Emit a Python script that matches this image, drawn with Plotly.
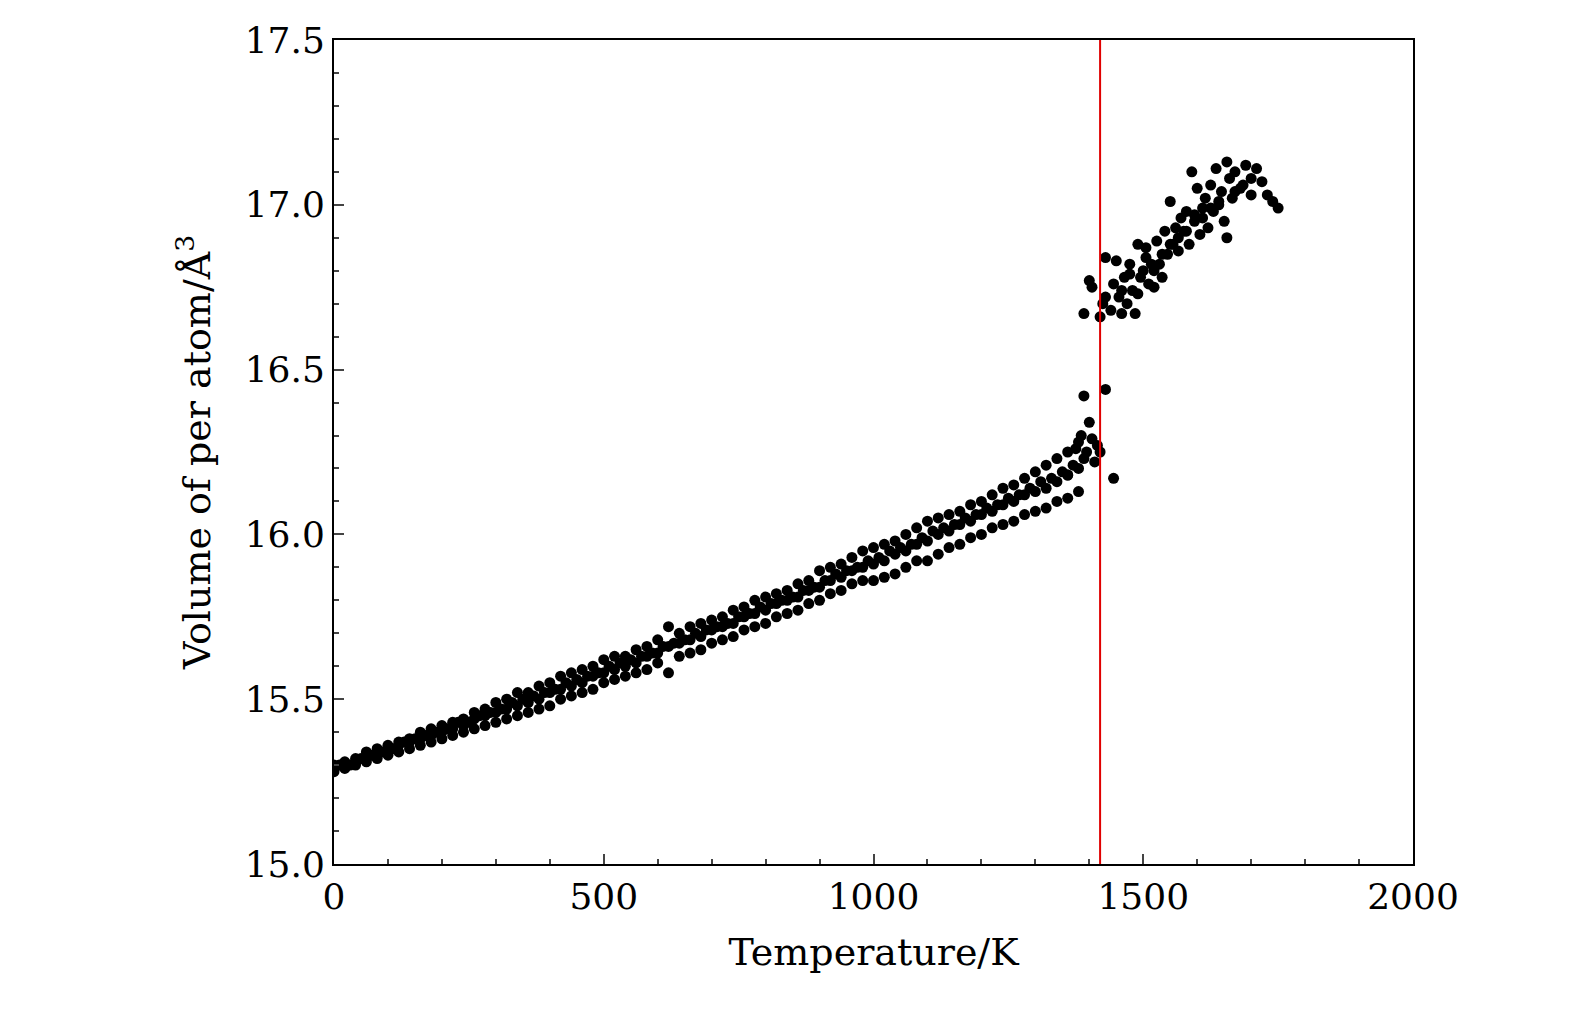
import plotly.graph_objects as go

# solid phase, upper and lower edges of the band
t_solid = [0, 20, 40, 60, 80, 100, 120, 140, 160, 180, 200, 220, 240, 260, 280, 300,
           320, 340, 360, 380, 400, 420, 440, 460, 480, 500, 520, 540, 560, 580, 600,
           620, 640, 660, 680, 700, 720, 740, 760, 780, 800, 820, 840, 860, 880, 900,
           920, 940, 960, 980, 1000, 1020, 1040, 1060, 1080, 1100, 1120, 1140, 1160,
           1180, 1200, 1220, 1240, 1260, 1280, 1300, 1320, 1340, 1360, 1380]
t_solid_b = [10, 30, 50, 70, 90, 110, 130, 150, 170, 190, 210, 230, 250, 270, 290, 310,
             330, 350, 370, 390, 410, 430, 450, 470, 490, 510, 530, 550, 570, 590, 610,
             630, 650, 670, 690, 710, 730, 750, 770, 790, 810, 830, 850, 870, 890, 910,
             930, 950, 970, 990, 1010, 1030, 1050, 1070, 1090, 1110, 1130, 1150, 1170,
             1190, 1210, 1230, 1250, 1270, 1290, 1310, 1330, 1350, 1370, 1390]
v_solid_hi = [15.30, 15.31, 15.32, 15.34, 15.35, 15.36, 15.37, 15.38, 15.40, 15.41,
              15.42, 15.43, 15.44, 15.46, 15.47, 15.49, 15.50, 15.52, 15.52, 15.54,
              15.55, 15.57, 15.58, 15.59, 15.60, 15.62, 15.63, 15.63, 15.65, 15.66,
              15.68, 15.72, 15.70, 15.72, 15.73, 15.74, 15.75, 15.77, 15.78, 15.80,
              15.81, 15.82, 15.83, 15.85, 15.86, 15.89, 15.90, 15.91, 15.93, 15.95,
              15.96, 15.97, 15.98, 16.00, 16.02, 16.04, 16.05, 16.06, 16.07, 16.09,
              16.10, 16.12, 16.14, 16.15, 16.17, 16.19, 16.21, 16.23, 16.25, 16.28]
v_solid_lo = [15.28, 15.29, 15.30, 15.31, 15.32, 15.33, 15.34, 15.35, 15.36, 15.37,
              15.38, 15.39, 15.40, 15.41, 15.42, 15.43, 15.44, 15.45, 15.46, 15.47,
              15.48, 15.50, 15.51, 15.52, 15.53, 15.55, 15.56, 15.57, 15.58, 15.59,
              15.61, 15.58, 15.63, 15.64, 15.65, 15.67, 15.68, 15.69, 15.71, 15.72,
              15.73, 15.75, 15.76, 15.77, 15.79, 15.80, 15.82, 15.83, 15.85, 15.86,
              15.86, 15.87, 15.88, 15.90, 15.92, 15.92, 15.94, 15.96, 15.97, 15.99,
              16.00, 16.02, 16.03, 16.04, 16.06, 16.07, 16.08, 16.10, 16.11, 16.13]
v_solid_mid = [15.29, 15.30, 15.31, 15.32, 15.33, 15.35, 15.36, 15.37, 15.38, 15.39,
               15.40, 15.41, 15.42, 15.44, 15.45, 15.46, 15.47, 15.48, 15.49, 15.50,
               15.52, 15.53, 15.54, 15.55, 15.57, 15.58, 15.59, 15.60, 15.61, 15.63,
               15.64, 15.66, 15.67, 15.68, 15.69, 15.71, 15.72, 15.73, 15.75, 15.76,
               15.77, 15.79, 15.80, 15.81, 15.83, 15.84, 15.86, 15.87, 15.89, 15.90,
               15.91, 15.92, 15.94, 15.95, 15.97, 15.98, 16.00, 16.01, 16.03, 16.04,
               16.06, 16.07, 16.09, 16.10, 16.12, 16.13, 16.14, 16.16, 16.18, 16.20]
v_solid_b = [15.30, 15.30, 15.32, 15.33, 15.34, 15.35, 15.37, 15.38, 15.39, 15.40,
             15.41, 15.43, 15.43, 15.45, 15.46, 15.47, 15.49, 15.50, 15.51, 15.52,
             15.53, 15.55, 15.56, 15.57, 15.58, 15.60, 15.61, 15.62, 15.63, 15.64,
             15.66, 15.67, 15.68, 15.70, 15.71, 15.72, 15.73, 15.75, 15.76, 15.78,
             15.79, 15.80, 15.81, 15.83, 15.84, 15.86, 15.88, 15.89, 15.90, 15.92,
             15.93, 15.95, 15.96, 15.97, 15.99, 16.01, 16.02, 16.03, 16.05, 16.06,
             16.08, 16.09, 16.11, 16.12, 16.14, 16.16, 16.17, 16.19, 16.21, 16.23]

# scattered points near the transition
t_trans = [1390, 1395, 1400, 1405, 1410, 1415, 1420, 1430, 1445, 1385, 1375, 1360]
v_trans = [16.42, 16.25, 16.34, 16.29, 16.22, 16.27, 16.25, 16.44, 16.17, 16.30, 16.26, 16.18]

# liquid phase
t_liq = [1390, 1400, 1405, 1420, 1425, 1430, 1440, 1450, 1455, 1460, 1465, 1470,
         1475, 1480, 1485, 1490, 1495, 1500, 1505, 1510, 1515, 1520, 1525, 1530,
         1535, 1540, 1545, 1550, 1555, 1560, 1565, 1570, 1575, 1580, 1585, 1590,
         1595, 1600, 1605, 1610, 1615, 1620, 1625, 1630, 1635, 1640, 1645, 1650,
         1655, 1660, 1665, 1670, 1680, 1690, 1700, 1710, 1720, 1730, 1740, 1750,
         1430, 1445, 1460, 1475, 1490, 1505, 1520, 1535, 1550, 1565, 1580, 1595,
         1610, 1625, 1640, 1655, 1670, 1685, 1700]
v_liq = [16.67, 16.77, 16.75, 16.66, 16.70, 16.84, 16.68, 16.83, 16.72, 16.67, 16.78,
         16.70, 16.82, 16.74, 16.67, 16.88, 16.78, 16.80, 16.87, 16.76, 16.82, 16.75,
         16.89, 16.82, 16.78, 16.92, 16.85, 17.01, 16.88, 16.93, 16.86, 16.96, 16.92,
         16.98, 16.88, 17.10, 16.95, 17.05, 16.91, 16.99, 17.02, 16.93, 17.06, 16.98,
         17.11, 17.00, 17.04, 16.95, 17.13, 17.08, 17.02, 17.10, 17.05, 17.12, 17.03,
         17.11, 17.07, 17.03, 17.01, 16.99,
         16.72, 16.76, 16.74, 16.79, 16.73, 16.84, 16.80, 16.85, 16.88, 16.90, 16.92,
         16.97, 16.96, 16.99, 17.01, 16.90, 17.04, 17.06, 17.08]

t_melt = 1420

xs = t_solid * 3 + t_solid_b + t_trans + t_liq
ys = v_solid_hi + v_solid_lo + v_solid_mid + v_solid_b + v_trans + v_liq

serif = "DejaVu Serif, Liberation Serif, serif"

fig = go.Figure()
fig.add_trace(go.Scatter(x=xs, y=ys, mode="markers",
                         marker=dict(color="black", size=11), showlegend=False))
fig.add_shape(type="line", x0=t_melt, x1=t_melt, y0=0, y1=1, yref="paper",
              line=dict(color="#e00000", width=2))

fig.update_layout(
    width=1575, height=1014,
    plot_bgcolor="white", paper_bgcolor="white",
    margin=dict(l=326, r=170, t=32, b=158),
    font=dict(family=serif, size=36, color="black"),
)
fig.update_xaxes(range=[0, 2000], tickvals=[0, 500, 1000, 1500, 2000],
                 ticks="inside", ticklen=10, tickwidth=1.5,
                 minor=dict(dtick=100, ticks="inside", ticklen=5),
                 showline=True, linecolor="black", linewidth=2, mirror=True,
                 showgrid=False, zeroline=False,
                 title=dict(text="Temperature/K", standoff=22, font=dict(size=38)))
fig.update_yaxes(range=[15.0, 17.5], tickvals=[15.0, 15.5, 16.0, 16.5, 17.0, 17.5],
                 tickformat=".1f",
                 ticks="inside", ticklen=10, tickwidth=1.5,
                 minor=dict(dtick=0.1, ticks="inside", ticklen=5),
                 showline=True, linecolor="black", linewidth=2, mirror=True,
                 showgrid=False, zeroline=False,
                 title=dict(text="Volume of per atom/Å<sup>3</sup>", standoff=22,
                            font=dict(size=38)))

fig.write_html("out.html")
